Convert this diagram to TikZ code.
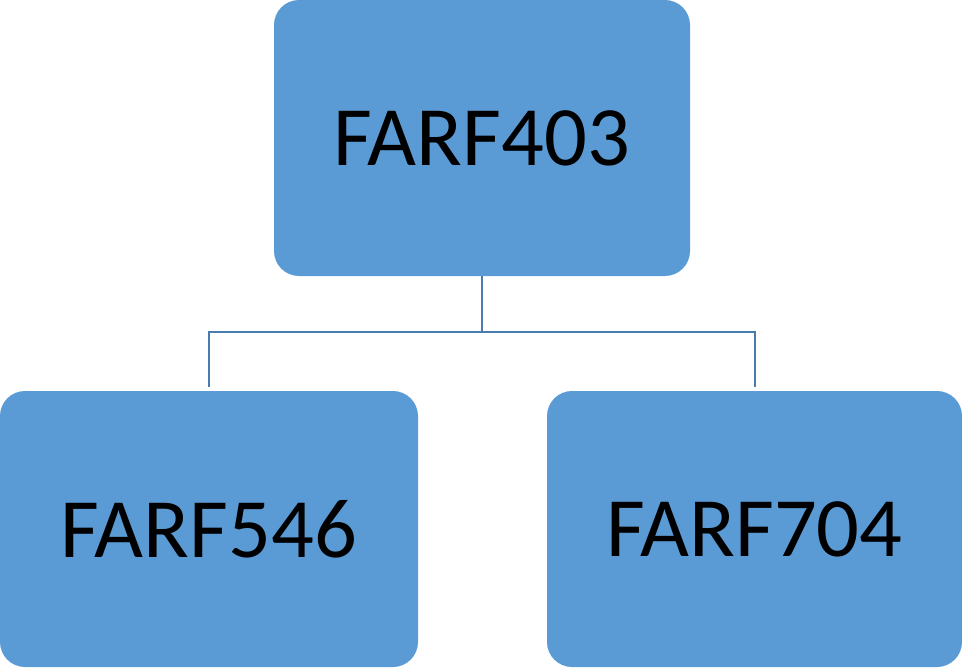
\documentclass[tikz,border=0pt]{standalone}
\usepackage{fontspec}
\setmainfont{Carlito}
\definecolor{boxfill}{HTML}{5B9BD5}
\definecolor{linkcol}{HTML}{487CAE}
\begin{document}
\begin{tikzpicture}[x=1pt,y=-1pt,
  orgbox/.style={fill=boxfill, draw=none, rounded corners=25pt, inner sep=0pt,
    minimum height=276pt, text=black, font=\fontsize{84.5}{100}\selectfont},
  link/.style={draw=linkcol, line width=2pt}]
\useasboundingbox (0,0) rectangle (962,669);
\node[orgbox, minimum width=416pt] (top) at (482,138) {FARF403};
\node[orgbox, minimum width=418pt] (bl) at (209,529) {FARF546};
\node[orgbox, minimum width=415pt] (br) at (754.5,529) {FARF704};
\coordinate (mid) at (482,332);
\draw[link] (top.south) -- (mid);
\draw[link] (mid) -| ([yshift=4pt]bl.north);
\draw[link] (mid) -| ([yshift=4pt]br.north);
\end{tikzpicture}
\end{document}
